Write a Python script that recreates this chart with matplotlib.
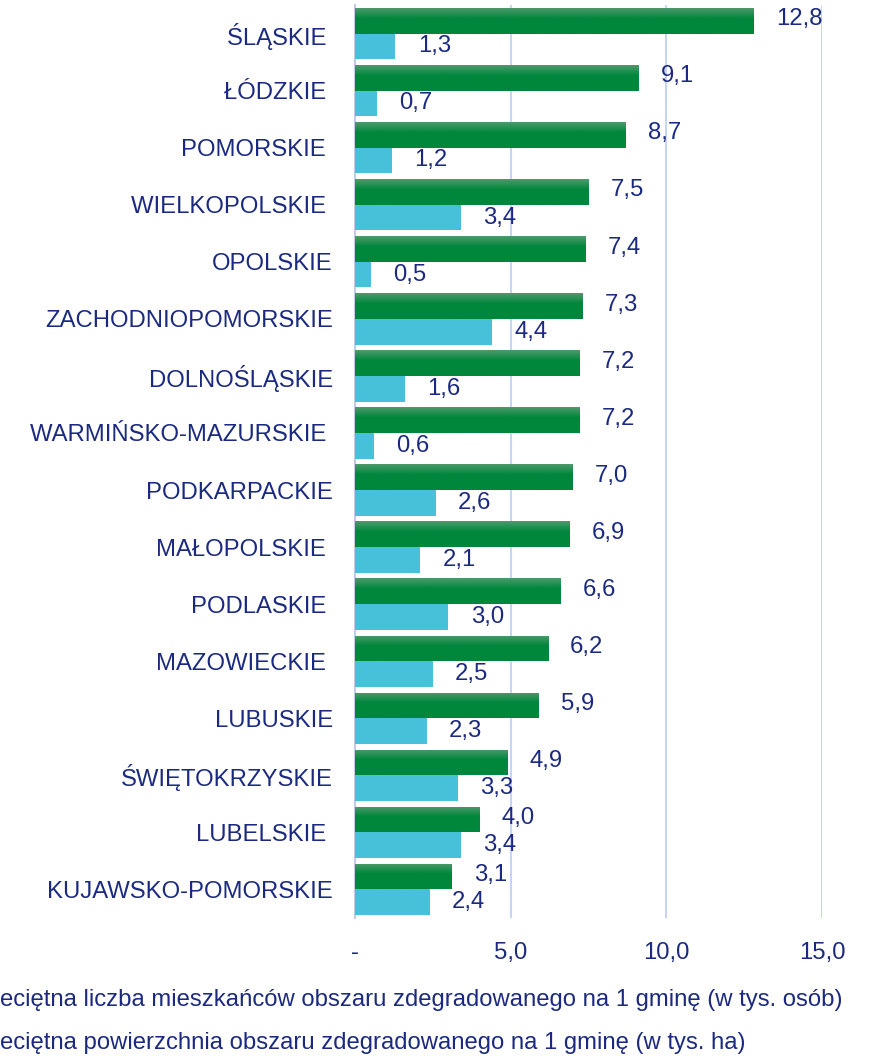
import numpy as np
import matplotlib
matplotlib.use("Agg")
import matplotlib.pyplot as plt
from matplotlib.colors import LinearSegmentedColormap

categories = ["ŚLĄSKIE ", "ŁÓDZKIE ", "POMORSKIE ", "WIELKOPOLSKIE ", "OPOLSKIE",
              "ZACHODNIOPOMORSKIE", "DOLNOŚLĄSKIE", "WARMIŃSKO-MAZURSKIE ", "PODKARPACKIE",
              "MAŁOPOLSKIE ", "PODLASKIE ", "MAZOWIECKIE ", "LUBUSKIE", "ŚWIĘTOKRZYSKIE",
              "LUBELSKIE ", "KUJAWSKO-POMORSKIE"]
residents = [12.8, 9.1, 8.7, 7.5, 7.4, 7.3, 7.2, 7.2, 7.0, 6.9, 6.6, 6.2, 5.9, 4.9, 4.0, 3.1]
area = [1.3, 0.7, 1.2, 3.4, 0.5, 4.4, 1.6, 0.6, 2.6, 2.1, 3.0, 2.5, 2.3, 3.3, 3.4, 2.4]
xticks = [0, 5, 10, 15]
xticklabels = ["-", "5,0", "10,0", "15,0"]
# legend texts as visible in the (left-cropped) reference
legend_labels = ["eciętna liczba mieszkańców obszaru zdegradowanego na 1 gminę (w tys. osób)",
                 "eciętna powierzchnia obszaru zdegradowanego na 1 gminę (w tys. ha)"]

NAVY = "#1B2A80"
GREEN = "#00873C"
CYAN = "#47C1D9"
GRID = "#C8D4F6"
FS = 17.2

plt.rcParams['font.family'] = ['Liberation Sans', 'DejaVu Sans']

W, H = 869, 1056
fig = plt.figure(figsize=(W / 100, H / 100), dpi=100)
ax = fig.add_axes([355 / W, 1 - 918 / H, (822 - 355) / W, (918 - 5) / H])

y = np.arange(len(categories))
bh = 0.45
gbars = ax.barh(y - bh / 2, residents, height=bh, color=GREEN, zorder=3)
cbars = ax.barh(y + bh / 2, area, height=bh, color=CYAN, zorder=3)

ax.set_xlim(0, 15)
ax.set_ylim(len(categories) - 0.5, -0.5)

# gradient overlay on green bars
cmap = LinearSegmentedColormap.from_list("g", [(0, "#4E9A6C"), (0.4, GREEN), (1, GREEN)])
grad = np.linspace(0, 1, 64).reshape(-1, 1)
for p in gbars:
    x0, yb, w, h = p.get_x(), p.get_y(), p.get_width(), p.get_height()
    im = ax.imshow(grad, cmap=cmap, aspect='auto', origin='upper',
                   extent=(x0, x0 + w, yb + h, yb), zorder=4, interpolation='bilinear')
    im.set_clip_path(p)
ax.set_xlim(0, 15)
ax.set_ylim(len(categories) - 0.5, -0.5)

for p, v in zip(gbars, residents):
    ax.annotate(f"{v:.1f}".replace(".", ","), (p.get_width(), p.get_y() + p.get_height() / 2),
                xytext=(16, 1), textcoords='offset points', va='center', ha='left',
                color=NAVY, fontsize=FS, zorder=5)
for p, v in zip(cbars, area):
    ax.annotate(f"{v:.1f}".replace(".", ","), (p.get_width(), p.get_y() + p.get_height() / 2),
                xytext=(16, 0), textcoords='offset points', va='center', ha='left',
                color=NAVY, fontsize=FS, zorder=5)

ax.set_yticks(y)
ax.set_yticklabels(categories, color=NAVY, fontsize=FS)
ax.tick_params(axis='y', length=0, pad=16)
ax.set_xticks(xticks)
ax.set_xticklabels(xticklabels, color=NAVY, fontsize=FS)
ax.tick_params(axis='x', length=0, pad=17)

ax.grid(axis='x', color=GRID, lw=1.5, zorder=0)
ax.set_axisbelow(True)
for s in ['top', 'right', 'bottom']:
    ax.spines[s].set_visible(False)
ax.spines['left'].set_color("#C4CCE4")
ax.spines['left'].set_linewidth(1.5)

fig.text(0.5 / W, 1 - 1000 / H, legend_labels[0], color=NAVY, fontsize=FS, va='center', ha='left')
fig.text(0.5 / W, 1 - 1043 / H, legend_labels[1], color=NAVY, fontsize=FS, va='center', ha='left')

fig.savefig("out.png", dpi=100)
